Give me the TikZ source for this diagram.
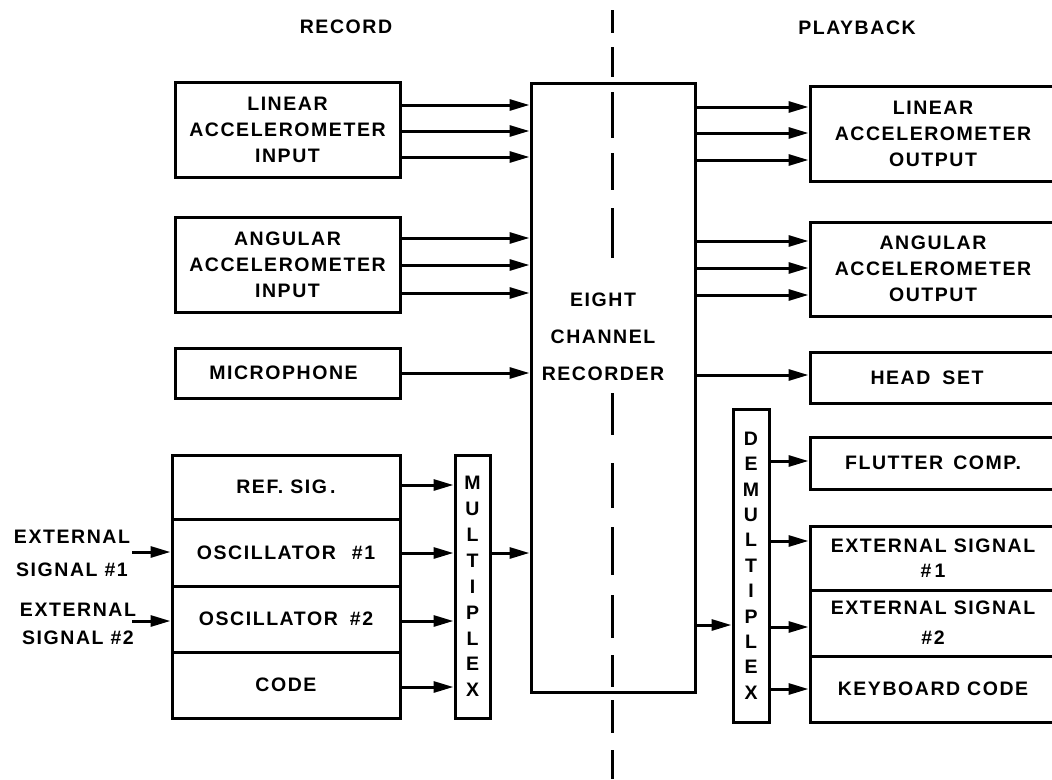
\documentclass[tikz,border=0pt]{standalone}
\usepackage{fontspec}
\setmainfont{Liberation Sans}[LetterSpace=8]
\usetikzlibrary{arrows.meta}
\newcommand\lbl{\fontsize{19.5}{26}\selectfont\bfseries}
\begin{document}
\begin{tikzpicture}[x=1pt,y=-1pt,
  box/.style={draw, line width=3pt, rectangle, inner sep=0pt, font=\lbl, align=center},
  txt/.style={inner sep=0pt, font=\lbl, align=center},
  arr/.style={line width=3pt, -{Triangle[length=20pt,width=11pt]}},
  dashseg/.style={line width=3pt}]
\useasboundingbox (0,0) rectangle (1052,779);
\clip (0,0) rectangle (1052,779);

% headings
\node[txt] (rec_h) at (346,27) {RECORD};
\node[txt] (play_h) at (857,28) {PLAYBACK};

% dividing dashed line
\foreach \a/\b in {10/33,47/77,92/138,153/190,208/258,393/435,463/508,527/575,595/638,655/687,700/733,750/779}
  \draw[dashseg] (612,\a) -- (612,\b);

% record side
\node[box, minimum width=225pt, minimum height=95pt] (linin) at (287.5,129.5) {LINEAR\\ACCELEROMETER\\INPUT};
\node[box, minimum width=225pt, minimum height=95pt] (angin) at (287.5,264.5) {ANGULAR\\ACCELEROMETER\\INPUT};
\node[box, minimum width=225pt, minimum height=50pt] (mic) at (287.5,373) {MICROPHONE\hspace{8pt}};

\node[box, minimum width=228pt, minimum height=64pt] (ref) at (286,487) {REF.\ SIG\,.};
\node[box, minimum width=228pt, minimum height=67pt] (osc1) at (286,552.5) {OSCILLATOR\hspace{16pt}\#1};
\node[box, minimum width=228pt, minimum height=66pt] (osc2) at (286,619) {OSCILLATOR\hspace{12pt}\#2};
\node[box, minimum width=228pt, minimum height=66pt] (code) at (286,685) {CODE};

\node[box, minimum width=35pt, minimum height=263pt, font=\fontsize{19.5}{25.9}\selectfont\bfseries] (mux) at (472.5,586.5) {M\\U\\L\\T\\I\\P\\L\\E\\X};

\node[txt, font=\fontsize{19.5}{33}\selectfont\bfseries] (ext1) at (72,553) {EXTERNAL\\SIGNAL \#1};
\node[txt, font=\fontsize{19.5}{28}\selectfont\bfseries] (ext2) at (78,624) {EXTERNAL\\SIGNAL \#2};
\coordinate (x1) at (132,552);
\coordinate (x2) at (132,621);

% recorder
\node[box, minimum width=164pt, minimum height=609pt] (rec) at (613,387.5) {};
\node[txt, font=\fontsize{19.5}{37}\selectfont\bfseries] (rectext) at (603,337) {EIGHT\\CHANNEL\\RECORDER};

% playback side
\node[box, minimum width=246pt, minimum height=95pt] (linout) at (933,133.5) {LINEAR\\ACCELEROMETER\\OUTPUT};
\node[box, minimum width=246pt, minimum height=94pt] (angout) at (933,269) {ANGULAR\\ACCELEROMETER\\OUTPUT};
\node[box, minimum width=246pt, minimum height=51pt] (head) at (933,377.5) {\hspace{-12pt}HEAD\hspace{12pt}SET};
\node[box, minimum width=246pt, minimum height=52pt] (flut) at (933,463) {FLUTTER\hspace{10pt}COMP.};
\node[box, minimum width=246pt, minimum height=64pt, font=\fontsize{19.5}{25}\selectfont\bfseries] (es1) at (933,558) {EXTERNAL SIGNAL\\\#\,1};
\node[box, minimum width=246pt, minimum height=66pt, font=\fontsize{19.5}{30}\selectfont\bfseries] (es2) at (933,623) {EXTERNAL SIGNAL\\\#2};
\node[box, minimum width=246pt, minimum height=66pt] (kbd) at (933,689) {KEYBOARD CODE};

\node[box, minimum width=36pt, minimum height=313pt, font=\fontsize{19.5}{25.4}\selectfont\bfseries] (demux) at (751,565.5) {D\\E\\M\\U\\L\\T\\I\\P\\L\\E\\X};

% connectors: record side
\foreach \y in {105,131,157}
  \draw[arr] (linin.east |- 0,\y) -- (rec.west |- 0,\y);
\foreach \y in {238,265,293}
  \draw[arr] (angin.east |- 0,\y) -- (rec.west |- 0,\y);
\draw[arr] (mic.east |- 0,373) -- (rec.west |- 0,373);
\draw[arr] (ref.east |- 0,485) -- (mux.west |- 0,485);
\draw[arr] (osc1.east |- 0,553) -- (mux.west |- 0,553);
\draw[arr] (osc2.east |- 0,621) -- (mux.west |- 0,621);
\draw[arr] (code.east |- 0,687) -- (mux.west |- 0,687);
\draw[arr] (mux.east |- 0,553) -- (rec.west |- 0,553);
\draw[arr] (x1) -- (osc1.west |- x1);
\draw[arr] (x2) -- (osc2.west |- x2);

% connectors: playback side
\foreach \y in {107,133,160}
  \draw[arr] (rec.east |- 0,\y) -- (linout.west |- 0,\y);
\foreach \y in {241,268,295}
  \draw[arr] (rec.east |- 0,\y) -- (angout.west |- 0,\y);
\draw[arr] (rec.east |- 0,375) -- (head.west |- 0,375);
\draw[arr] (rec.east |- 0,625) -- (demux.west |- 0,625);
\draw[arr] (demux.east |- 0,461) -- (flut.west |- 0,461);
\draw[arr] (demux.east |- 0,541) -- (es1.west |- 0,541);
\draw[arr] (demux.east |- 0,627) -- (es2.west |- 0,627);
\draw[arr] (demux.east |- 0,689) -- (kbd.west |- 0,689);
\end{tikzpicture}
\end{document}
